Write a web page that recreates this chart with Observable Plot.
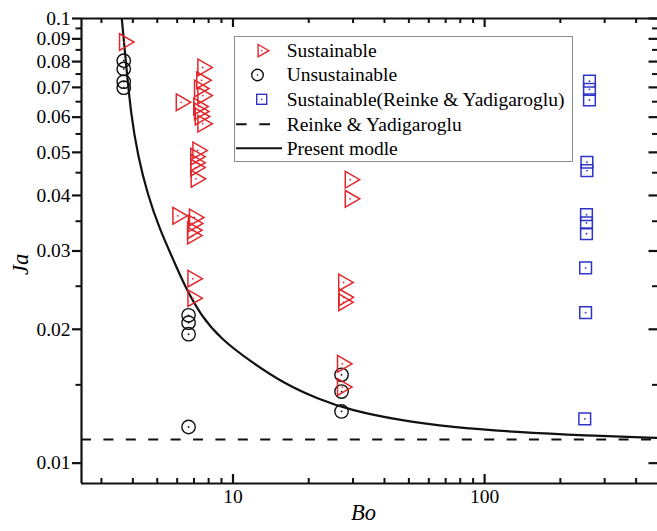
<!DOCTYPE html>
<html><head><meta charset="utf-8">
<script src="https://cdn.jsdelivr.net/npm/d3@7"></script>
<script src="https://cdn.jsdelivr.net/npm/@observablehq/plot@0.6"></script>
<style>
html,body{margin:0;padding:0;background:#fff;}
#wrap{position:relative;width:657px;height:531px;overflow:hidden;font-family:"Liberation Serif","Times New Roman",serif;}
#legend{position:absolute;left:234px;top:36px;}
</style></head><body><div id="wrap"></div>
<script>
// ---- data ----
const sustBo = [3.70, 7.58, 7.50, 7.35, 7.58, 6.22, 7.30, 7.35, 7.40, 7.58, 7.24, 7.10, 7.10, 7.10, 7.13, 6.03, 7.02, 6.95, 6.90, 6.90, 6.92, 6.92, 29.2, 29.2, 27.5, 27.6, 27.5, 27.2, 27.2];
const sustJa = [0.0885, 0.0776, 0.0726, 0.0696, 0.0671, 0.0648, 0.0634, 0.0618, 0.0602, 0.0580, 0.0505, 0.0489, 0.0474, 0.0462, 0.0436, 0.0360, 0.0357, 0.0346, 0.0334, 0.0325, 0.0260, 0.0235, 0.0434, 0.0393, 0.0255, 0.0236, 0.0230, 0.01673, 0.01483];
const unsBo = [3.68, 3.68, 3.68, 3.68, 6.66, 6.66, 6.66, 6.66, 27.0, 27.0, 27.0];
const unsJa = [0.0804, 0.0770, 0.0721, 0.0699, 0.0215, 0.0207, 0.0195, 0.01206, 0.0158, 0.01449, 0.01307];
const ryBo = [261, 261, 261, 255, 255, 254, 254, 254, 252, 252, 250];
const ryJa = [0.0723, 0.0693, 0.0656, 0.0475, 0.0455, 0.0362, 0.0347, 0.0328, 0.0275, 0.0218, 0.01258];
const ryLineJa = [0.0113];
const modelBo = [3.60, 3.762, 3.937, 4.185, 4.587, 5.099, 5.849, 6.510, 7.464, 8.964, 11.79, 15.98, 21.68, 29.4, 46.4, 73.3, 134.8, 247.7, 500];
const modelJa = [0.1025, 0.0784, 0.0605, 0.0492, 0.0400, 0.0337, 0.0283, 0.02467, 0.02148, 0.0190, 0.01690, 0.01509, 0.01395, 0.01314, 0.01247, 0.01205, 0.01174, 0.01154, 0.01139];
const xMajor = [10, 100];
const xMinor = [3, 4, 5, 6, 7, 8, 9, 20, 30, 40, 50, 60, 70, 80, 90, 200, 300, 400];
const yMajor = [0.01, 0.02, 0.03, 0.04, 0.05, 0.06, 0.07, 0.08, 0.09, 0.1];
const yMinor = [0.015, 0.025, 0.035, 0.045, 0.055, 0.065, 0.075, 0.085, 0.095];
const legendLabels = ["Sustainable", "Unsustainable", "Sustainable(Reinke & Yadigaroglu)", "Reinke & Yadigaroglu", "Present modle"];

const sust = sustBo.map((b, i) => ({Bo: b, Ja: sustJa[i]}));
const uns = unsBo.map((b, i) => ({Bo: b, Ja: unsJa[i]}));
const ry = ryBo.map((b, i) => ({Bo: b, Ja: ryJa[i]}));
const model = modelBo.map((b, i) => ({Bo: b, Ja: modelJa[i]}));

const RED = "#e3262b", BLUE = "#2e34c8", BLACK = "#111";
const triRight = {draw(ctx, size) {
  const s = Math.sqrt(size / (Math.sqrt(3) / 4)), h = s * Math.sqrt(3) / 2;
  ctx.moveTo(-h / 3, -s / 2); ctx.lineTo(2 * h / 3, 0); ctx.lineTo(-h / 3, s / 2); ctx.closePath();
}};
const W = 657, H = 531, ML = 81, MR = 0, MT = 18, MB = 48;
const IW = W - ML - MR, IH = H - MT - MB;

const chart = Plot.plot({
  width: W, height: H,
  marginLeft: ML, marginRight: MR, marginTop: MT, marginBottom: MB,
  style: {fontFamily: '"Liberation Serif", "Times New Roman", serif', fontSize: "19.5px", background: "white", color: "black"},
  x: {type: "log", domain: [2.5, 500], range: [81, 660], axis: null},
  y: {type: "log", domain: [0.009, 0.1], axis: null},
  marks: [
    Plot.ruleY(ryLineJa, {stroke: BLACK, strokeWidth: 2, strokeDasharray: "10,12.4"}),
    Plot.line(model, {x: "Bo", y: "Ja", stroke: BLACK, strokeWidth: 2.2, curve: "basis", clip: true}),
    Plot.dot(ry, {x: "Bo", y: "Ja", symbol: "square", r: 6.6, stroke: BLUE, strokeWidth: 1.5, fill: "none"}),
    Plot.dot(ry, {x: "Bo", y: "Ja", r: 0.9, fill: BLUE}),
    Plot.dot(uns, {x: "Bo", y: "Ja", symbol: "circle", r: 6.7, stroke: BLACK, strokeWidth: 1.4, fill: "none"}),
    Plot.dot(uns, {x: "Bo", y: "Ja", r: 0.9, fill: BLACK}),
    Plot.dot(sust, {x: "Bo", y: "Ja", symbol: triRight, r: 6.2, stroke: RED, strokeWidth: 1.5, fill: "none"}),
    Plot.dot(sust, {x: "Bo", y: "Ja", r: 0.9, fill: RED}),
    // frame lines
    Plot.ruleX([2.5], {strokeWidth: 2.2, stroke: BLACK}),
    Plot.ruleY([0.009], {strokeWidth: 2.2, stroke: BLACK}),
    Plot.ruleY([0.1], {strokeWidth: 2.2, stroke: BLACK}),
    // ticks: left outward, others inward
    Plot.ruleY(yMajor, {y: d => d, insetLeft: -9, insetRight: IW, strokeWidth: 2.2, stroke: BLACK}),
    Plot.ruleY(yMinor, {y: d => d, insetLeft: -5.5, insetRight: IW, strokeWidth: 2, stroke: BLACK}),
    Plot.ruleY(yMajor, {y: d => d, insetLeft: IW - 8.5, strokeWidth: 2.2, stroke: BLACK}),
    Plot.ruleY(yMinor, {y: d => d, insetLeft: IW - 5, strokeWidth: 2, stroke: BLACK}),
    Plot.ruleX(xMajor, {x: d => d, insetTop: IH - 9, strokeWidth: 2.2, stroke: BLACK}),
    Plot.ruleX(xMinor, {x: d => d, insetTop: IH - 5, strokeWidth: 2, stroke: BLACK}),
    Plot.ruleX(xMajor, {x: d => d, insetBottom: IH - 9, strokeWidth: 2.2, stroke: BLACK}),
    Plot.ruleX(xMinor, {x: d => d, insetBottom: IH - 5, strokeWidth: 2, stroke: BLACK}),
    // tick labels
    Plot.text(yMajor, {y: d => d, frameAnchor: "left", dx: -11, textAnchor: "end", text: d => String(d), fontSize: 19.5}),
    Plot.text(xMajor, {x: d => d, frameAnchor: "bottom", dy: 19, text: d => String(d), fontSize: 19.5}),
    // axis titles
    Plot.text(["Bo"], {frameAnchor: "bottom", dx: -6, dy: 36, fontSize: 22.5, fontStyle: "italic"}),
    Plot.text(["Ja"], {frameAnchor: "left", dx: -61, dy: 24, fontSize: 22.5, fontStyle: "italic", rotate: -90})
  ]
});
document.getElementById("wrap").appendChild(chart);

// legend overlay (inside plot area, top-right)
const lg = d3.select("#wrap").append("svg").attr("id", "legend").attr("width", 340).attr("height", 127)
  .style("font-family", '"Liberation Serif", "Times New Roman", serif').style("font-size", "19.5px");
lg.append("rect").attr("x", 0.5).attr("y", 0.5).attr("width", 338).attr("height", 125)
  .attr("fill", "white").attr("stroke", "#8c8c8c").attr("stroke-width", 1);
const rowsY = [14.7, 39, 63.3, 88.3, 112.3];
lg.append("path").attr("d", "M-3.6,-6.2L7.2,0L-3.6,6.2Z").attr("transform", `translate(27.7,${rowsY[0]})`)
  .attr("fill", "none").attr("stroke", RED).attr("stroke-width", 1.4);
lg.append("circle").attr("cx", 27.7).attr("cy", rowsY[0]).attr("r", 0.8).attr("fill", RED);
lg.append("circle").attr("cx", 23.5).attr("cy", rowsY[1]).attr("r", 5.8).attr("fill", "none").attr("stroke", BLACK).attr("stroke-width", 1.4);
lg.append("circle").attr("cx", 23.5).attr("cy", rowsY[1]).attr("r", 0.8).attr("fill", BLACK);
lg.append("rect").attr("x", 22.7).attr("y", rowsY[2] - 5).attr("width", 10).attr("height", 10).attr("fill", "none").attr("stroke", BLUE).attr("stroke-width", 1.4);
lg.append("circle").attr("cx", 27.7).attr("cy", rowsY[2]).attr("r", 0.8).attr("fill", BLUE);
lg.append("line").attr("x1", 2).attr("x2", 37).attr("y1", rowsY[3]).attr("y2", rowsY[3]).attr("stroke", BLACK).attr("stroke-width", 2).attr("stroke-dasharray", "10.7,12.6");
lg.append("line").attr("x1", 2).attr("x2", 48).attr("y1", rowsY[4]).attr("y2", rowsY[4]).attr("stroke", BLACK).attr("stroke-width", 2);
legendLabels.forEach((t, i) => {
  lg.append("text").attr("x", 52.7).attr("y", rowsY[i] + 6.3).attr("fill", "black").text(t);
});
</script>
</body></html>
